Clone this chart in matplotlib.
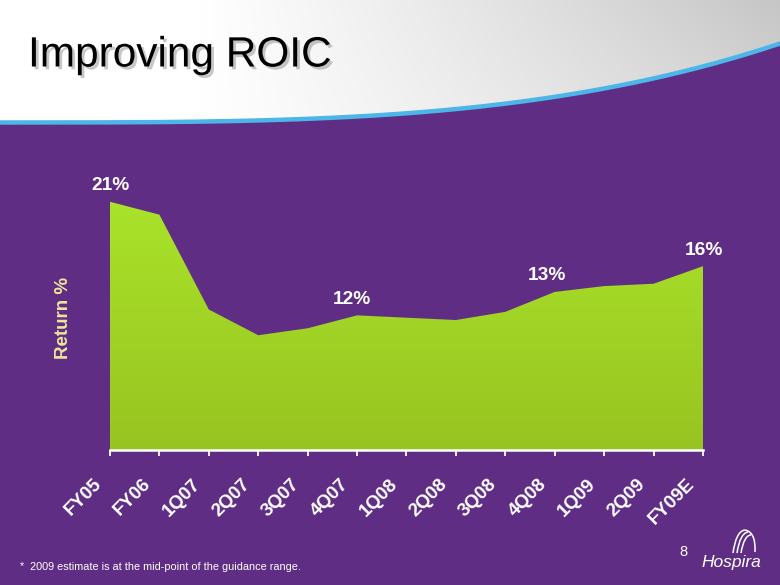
import numpy as np
import matplotlib.pyplot as plt
import matplotlib.patheffects as pe
from matplotlib.path import Path
from matplotlib.patches import PathPatch
from matplotlib.colors import LinearSegmentedColormap
from matplotlib.transforms import ScaledTranslation

plt.rcParams['font.family'] = ['Liberation Sans', 'DejaVu Sans']

# data
periods = ['FY05', 'FY06', '1Q07', '2Q07', '3Q07', '4Q07', '1Q08',
           '2Q08', '3Q08', '4Q08', '1Q09', '2Q09', 'FY09E']
roic = [21.2, 20.1, 12.0, 9.8, 10.4, 11.5, 11.3, 11.1, 11.8, 13.5, 14.0, 14.2, 15.7]
label_idx = [0, 5, 9, 12]
label_txt = ['21%', '12%', '13%', '16%']
label_dx = [0, -5, -8, 1]   # px nudges seen on the slide

purple = '#5F2E84'
W, H = 780, 585

fig = plt.figure(figsize=(7.8, 5.85), dpi=100)
fig.patch.set_facecolor(purple)

# ---- background: grey header with blue swoosh
bg = fig.add_axes([0, 0, 1, 1])
bg.set_xlim(0, W)
bg.set_ylim(H, 0)
bg.axis('off')

xs = np.linspace(0, W, 200)
curve = 121 - 79 * (xs / W) ** 3.3
verts = [(0, 0)] + list(zip(xs, curve)) + [(W, 0), (0, 0)]
hdr = PathPatch(Path(verts), facecolor='none', edgecolor='none')
bg.add_patch(hdr)
gx = np.linspace(0, 1, 300)
gy = np.linspace(0, 1, 60)
GX, GY = np.meshgrid(gx, gy)
shade = np.clip((GX - 0.25) / 0.75, 0, 1) ** 1.1 * (1 - 0.3 * GY)
grey = LinearSegmentedColormap.from_list('g', ['#FFFFFF', '#C6C6C6'])
im = bg.imshow(shade, extent=[0, W, 130, 0], cmap=grey, vmin=0, vmax=1,
               aspect='auto', zorder=1)
im.set_clip_path(hdr)
bg.plot(xs, curve + 1.5, color='#4DB6E8', lw=3.2, zorder=2, solid_capstyle='butt')
bg.set_xlim(0, W)
bg.set_ylim(H, 0)

fig.text(28 / W, 1 - 66.5 / H, 'Improving ROIC', fontsize=30.5, color='black',
         va='baseline', ha='left',
         path_effects=[pe.withSimplePatchShadow(offset=(2, -2), shadow_rgbFace='#909090', alpha=0.5)])

# ---- chart
ax = fig.add_axes([110 / W, 135 / H, 593 / W, 281 / H])
ax.patch.set_alpha(0)
x = np.arange(len(periods))
poly = ax.fill_between(x, roic, 0, facecolor='none', edgecolor='none')
lime = LinearSegmentedColormap.from_list('lime', ['#98C421', '#AAE42A'])
grad = np.linspace(0, 1, 256).reshape(-1, 1)
gim = ax.imshow(grad, extent=[0, 12, 0, 22], origin='lower', cmap=lime,
                aspect='auto', zorder=1)
gim.set_clip_path(poly.get_paths()[0], transform=ax.transData)
ax.set_xlim(0, 12)
ax.set_ylim(0, 24)

for i, t, dx in zip(label_idx, label_txt, label_dx):
    ax.annotate(t, (x[i], roic[i]), xytext=(dx * 0.72, 11.5), textcoords='offset points',
                ha='center', va='center', color='white', fontsize=13.8, fontweight='bold')

for s in ['left', 'right', 'top']:
    ax.spines[s].set_visible(False)
ax.spines['bottom'].set_color('white')
ax.spines['bottom'].set_linewidth(1.8)
ax.set_yticks([])
ax.set_xticks(x)
ax.tick_params(axis='x', direction='out', length=4.5, width=1.3, color='white', pad=18)
ax.set_xticklabels(periods, rotation=45, ha='right', va='center', rotation_mode='anchor',
                   color='white', fontsize=13.5, fontweight='bold')
shift = ScaledTranslation(-11 / 100, 0, fig.dpi_scale_trans)
for lb in ax.get_xticklabels():
    lb.set_transform(lb.get_transform() + shift)

fig.text(64 / W, 1 - 318 / H, 'Return %', rotation=90, ha='center', va='center',
         color='#EEE49A', fontsize=13.5, fontweight='bold')

# ---- footer
fig.text(20 / W, 1 - 567 / H, '*  2009 estimate is at the mid-point of the guidance range.',
         color='white', fontsize=7.8, va='center', ha='left')
fig.text(683 / W, 1 - 552 / H, '8', color='white', fontsize=10.5, va='center', ha='center')
fig.text(731 / W, 1 - 563 / H, 'Hospira', color='white', fontsize=12.5, va='center',
         ha='center', style='italic')
for (x0, y0), (cx, cy), (x1, y1) in [((733, 553), (736, 531), (745, 530)),
                                    ((737, 553), (740, 533), (748, 532)),
                                    ((741, 553), (744, 535), (751, 535)),
                                    ((745, 530), (756, 532), (755, 552))]:
    p = Path([(x0, y0), (cx, cy), (x1, y1)], [Path.MOVETO, Path.CURVE3, Path.CURVE3])
    bg.add_patch(PathPatch(p, facecolor='none', edgecolor='white', lw=1.1, zorder=3))

fig.savefig('out.png', dpi=100, facecolor=purple)
